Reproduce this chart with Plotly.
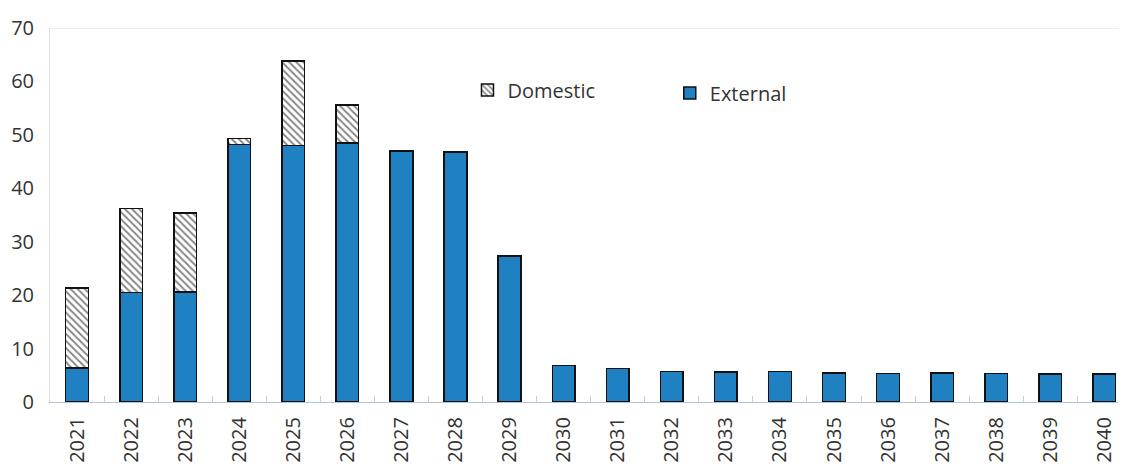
import plotly.graph_objects as go

years = [str(y) for y in range(2021, 2041)]
external = [6.4, 20.5, 20.6, 48.2, 48.0, 48.5, 47.0, 46.8, 27.3, 6.8, 6.3, 5.7, 5.6, 5.7, 5.4, 5.3, 5.4, 5.3, 5.2, 5.2]
domestic = [14.9, 15.7, 14.8, 1.1, 15.8, 7.1, 0, 0, 0, 0, 0, 0, 0, 0, 0, 0, 0, 0, 0, 0]
y_ticks = [0, 10, 20, 30, 40, 50, 60, 70]

FONT = "Open Sans"
BLUE = "#1f80c2"
TXT = "#333333"

fig = go.Figure()
fig.add_trace(go.Bar(
    x=years, y=external, name="External",
    marker=dict(color=BLUE, line=dict(color="#111111", width=1.5)),
    legend="legend2", showlegend=True,
))
fig.add_trace(go.Bar(
    x=years, y=domestic, name="Domestic",
    marker=dict(color="white", line=dict(color="#111111", width=1.5),
                pattern=dict(shape="\\", fgcolor="#111111", bgcolor="white", size=5, solidity=0.4)),
    legend="legend", showlegend=True,
))

# page body has an 8px margin, so the figure is sized/offset to compensate
fig.update_layout(
    barmode="stack",
    bargap=0.58,
    width=1118, height=462,
    margin=dict(l=42, r=0, t=20, b=68),
    paper_bgcolor="white", plot_bgcolor="white",
    font=dict(family=FONT, size=20, color=TXT),
    showlegend=True,
    legend=dict(x=0.388, y=0.834, xanchor="left", yanchor="middle",
                bgcolor="rgba(0,0,0,0)", font=dict(size=20, color=TXT), itemwidth=30),
    legend2=dict(x=0.576, y=0.826, xanchor="left", yanchor="middle",
                 bgcolor="rgba(0,0,0,0)", font=dict(size=20, color=TXT), itemwidth=30),
    xaxis=dict(
        type="category", range=[-0.5, 19.4],
        tickangle=-90, showgrid=False,
        showline=True, linecolor="#b8c4d6", linewidth=1.2,
        ticks="inside", ticklen=6, tickcolor="#c8d0dc", tickson="boundaries",
        tickfont=dict(size=20, color=TXT),
        ticklabelstandoff=6,
        automargin=False,
    ),
    yaxis=dict(
        range=[0, 70], tickvals=y_ticks, showgrid=False,
        showline=True, linecolor="#e2e2e2", linewidth=1,
        ticks="", tickfont=dict(size=20, color=TXT),
        ticklabelstandoff=11,
        zeroline=False, automargin=False,
    ),
    shapes=[dict(type="line", xref="paper", yref="y", x0=0, x1=1, y0=70, y1=70,
                 line=dict(color="#dcdcdc", width=1.2))],
)

fig.write_html("out.html")
